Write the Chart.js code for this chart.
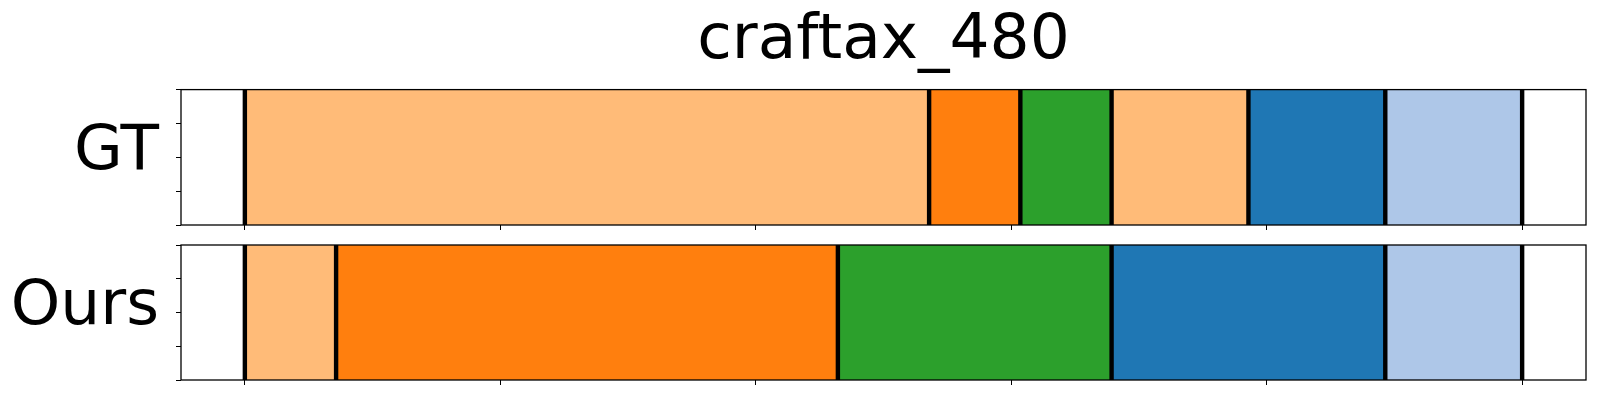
<!DOCTYPE html>
<html>
<head>
<meta charset="utf-8">
<script src="https://cdn.jsdelivr.net/npm/chart.js@4.4.1/dist/chart.umd.min.js"></script>
<style>
  html, body { margin: 0; padding: 0; background: #fff; }
  #wrap { position: relative; width: 1600px; height: 400px; }
  .panel { position: absolute; left: 0; width: 1600px; }
  #gt-box { top: 0; height: 235px; }
  #ours-box { top: 235px; height: 165px; }
</style>
</head>
<body>
<div id="wrap">
  <div class="panel" id="gt-box"><canvas id="gt-chart"></canvas></div>
  <div class="panel" id="ours-box"><canvas id="ours-chart"></canvas></div>
</div>
<script>
// ─── Data ─────────────────────────────────────────────────────────────
const title = 'craftax_480';
const rowLabels = ['GT', 'Ours'];
const totalSteps = 28;

// segment lengths (in steps) and their class index into the tab20 palette
const gtLengths = [15, 2, 2, 3, 3, 3];
const gtClasses = [3, 2, 4, 3, 0, 1];
const oursLengths = [2, 11, 6, 6, 3];
const oursClasses = [3, 2, 4, 0, 1];

const xTicks = [0, 0.2, 0.4, 0.6, 0.8, 1.0];
const yTicks = [0, 0.25, 0.5, 0.75, 1.0];

const tab20 = ['#1f77b4', '#aec7e8', '#ff7f0e', '#ffbb78', '#2ca02c', '#98df8a'];

Chart.defaults.font.family = "'DejaVu Sans', sans-serif";
Chart.defaults.color = '#000';

// ─── Helpers ──────────────────────────────────────────────────────────
function boundsOf(lengths) {
  const out = [0];
  let acc = 0;
  lengths.forEach(l => { acc += l; out.push(acc / totalSteps); });
  return out;
}

// draws black segment separators and the axes frame
function segmentPlugin(bounds) {
  return {
    id: 'segmentLines',
    afterDatasetsDraw(chart) {
      const { ctx, chartArea, scales } = chart;
      ctx.save();
      ctx.strokeStyle = '#000';
      ctx.lineWidth = 4.4;
      bounds.forEach(b => {
        const x = scales.x.getPixelForValue(b);
        ctx.beginPath();
        ctx.moveTo(x, chartArea.top);
        ctx.lineTo(x, chartArea.bottom);
        ctx.stroke();
      });
      ctx.lineWidth = 1.3;
      ctx.strokeRect(chartArea.left, chartArea.top,
        chartArea.right - chartArea.left, chartArea.bottom - chartArea.top);
      ctx.restore();
    }
  };
}

function noPad(s) {
  s.paddingTop = 0;
  s.paddingBottom = 0;
  s.paddingLeft = 0;
  s.paddingRight = 0;
}

function renderRow(canvasId, label, lengths, classes, opts) {
  const ctx = document.getElementById(canvasId);
  const datasets = lengths.map((len, i) => ({
    data: [len / totalSteps],
    backgroundColor: tab20[classes[i]],
    borderWidth: 0,
    barPercentage: 1,
    categoryPercentage: 1
  }));

  return new Chart(ctx, {
    type: 'bar',
    data: { labels: [label], datasets },
    options: {
      indexAxis: 'y',
      responsive: true,
      maintainAspectRatio: false,
      animation: false,
      layout: { padding: { left: 0, right: 14, top: opts.padTop, bottom: 0 } },
      plugins: {
        legend: { display: false },
        tooltip: { enabled: false },
        title: opts.showTitle ? {
          display: true,
          text: title,
          color: '#000',
          fullSize: false,
          font: { size: 63, weight: 'normal' },
          padding: { top: 4, bottom: 10 }
        } : { display: false }
      },
      scales: {
        x: {
          type: 'linear',
          stacked: true,
          min: -0.05,
          max: 1.05,
          afterBuildTicks: (s) => { s.ticks = xTicks.map(v => ({ value: v })); },
          afterFit: (s) => { s.height = opts.xHeight; noPad(s); },
          ticks: { display: false },
          grid: { drawOnChartArea: false, drawTicks: true, tickLength: 5, color: '#000', lineWidth: 1 },
          border: { display: false }
        },
        y: {
          type: 'category',
          stacked: true,
          position: 'left',
          weight: 1,
          afterFit: (s) => { s.width = 176; noPad(s); },
          ticks: { font: { size: 63 }, color: '#000', padding: 17, labelOffset: -5 },
          grid: { display: false, drawTicks: false },
          border: { display: false }
        },
        yt: {
          type: 'linear',
          axis: 'y',
          position: 'left',
          weight: 0,
          min: 0,
          max: 1,
          offset: false,
          afterBuildTicks: (s) => { s.ticks = yTicks.map(v => ({ value: v })); },
          afterFit: (s) => { s.width = 5; noPad(s); },
          ticks: { display: false },
          grid: { offset: false, drawOnChartArea: false, drawTicks: true, tickLength: 5, color: '#000', lineWidth: 1 },
          border: { display: false }
        }
      }
    },
    plugins: [segmentPlugin(boundsOf(lengths))]
  });
}

renderRow('gt-chart', rowLabels[0], gtLengths, gtClasses, { showTitle: true, padTop: 0, xHeight: 10 });
renderRow('ours-chart', rowLabels[1], oursLengths, oursClasses, { showTitle: false, padTop: 10, xHeight: 20 });
</script>
</body>
</html>
